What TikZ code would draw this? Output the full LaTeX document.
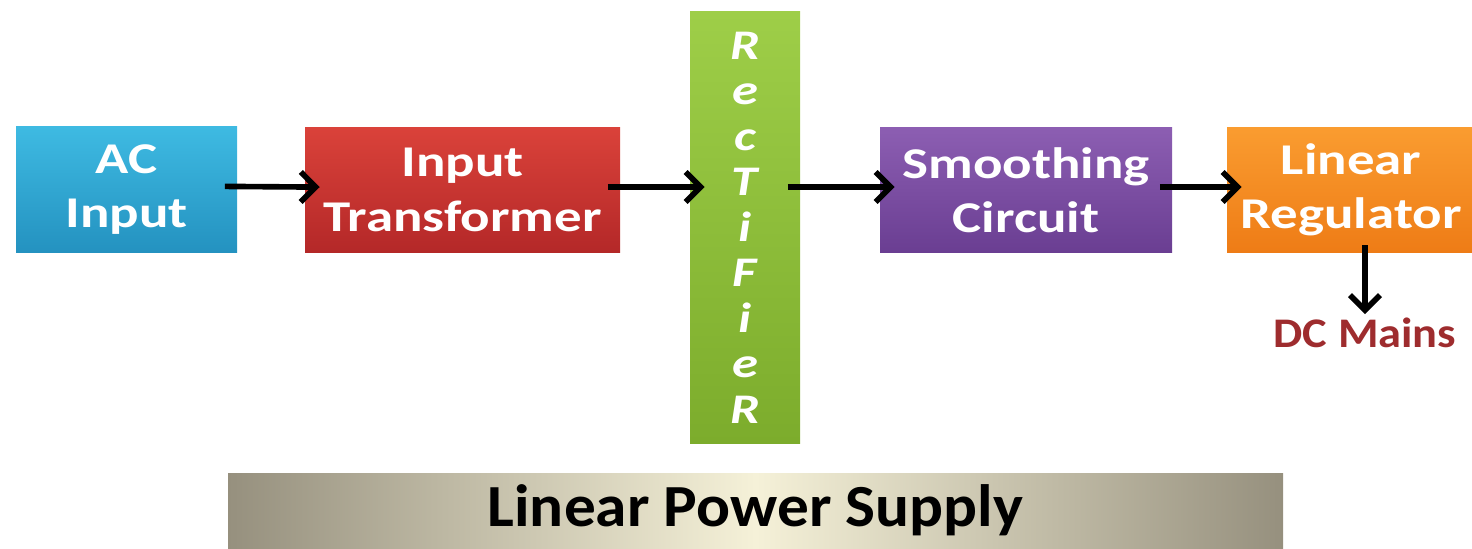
\documentclass[tikz,border=0pt]{standalone}
\usepackage{fontspec}
\setmainfont{Carlito}
\newfontfamily\boxfont{Carlito}[FakeStretch=1.25]
\newfontfamily\bandfont{Carlito}[FakeStretch=1.06]
\newfontfamily\mainsfont{Carlito}[FakeStretch=1.1]
\usepackage{tikz}
\usetikzlibrary{positioning,arrows.meta,calc}
\definecolor{acTop}{RGB}{62,186,226}
\definecolor{acBot}{RGB}{36,146,192}
\definecolor{trTop}{RGB}{218,66,58}
\definecolor{trBot}{RGB}{180,40,40}
\definecolor{rcTop}{RGB}{158,206,72}
\definecolor{rcBot}{RGB}{124,172,44}
\definecolor{smTop}{RGB}{140,94,178}
\definecolor{smBot}{RGB}{106,62,146}
\definecolor{rgTop}{RGB}{250,156,48}
\definecolor{rgBot}{RGB}{238,124,22}
\definecolor{dcRed}{RGB}{158,44,46}
\definecolor{bandSide}{RGB}{150,144,126}
\definecolor{bandMid}{RGB}{245,241,216}
\tikzset{
  blk/.style={rectangle, minimum height=2.5cm, align=center, text=white,
              font=\boxfont\fontsize{25}{31}\selectfont\bfseries, inner sep=0pt},
  flow/.style={-{Straight Barb[length=3mm,width=6mm]}, line width=3.2pt,
               shorten <=-0.25cm, shorten >=-0.3cm},
  lbl/.style={font=\mainsfont\fontsize{24}{28}\selectfont\bfseries, text=dcRed, inner sep=2pt},
}
\begin{document}
\begin{tikzpicture}
  \useasboundingbox (0,0) rectangle (29.44,10.96);

  \node[blk, minimum width=4.42cm, top color=acTop, bottom color=acBot] (ac)
        at (2.53,7.17) {AC\\Input};
  \node[blk, minimum width=6.3cm, top color=trTop, bottom color=trBot] (tr)
        at (9.25,7.16) {Input\\Transformer};
  \node[blk, minimum width=2.2cm, minimum height=8.62cm, top color=rcTop,
        bottom color=rcBot, font=\boxfont\fontsize{24}{25.9}\selectfont\bfseries\itshape] (rc)
        at (14.9,6.41) {R\\e\\c\\T\\i\\F\\i\\e\\R};
  \node[blk, minimum width=5.84cm, top color=smTop, bottom color=smBot] (sm)
        at (20.52,7.16) {Smoothing\\Circuit};
  \node[blk, minimum width=4.96cm, top color=rgTop, bottom color=rgBot] (rg)
        at (27.02,7.16) {Linear\\Regulator};
  \node[lbl] (dc) at (27.3,4.3) {DC Mains};

  % supply chain
  \draw[flow] ([yshift=0.6mm]ac.east) -- ([yshift=0.6mm]tr.west);
  \draw[flow] ([yshift=0.6mm]tr.east) -- ([yshift=0.6mm]tr.east -| rc.west);
  \draw[flow] ([yshift=0.6mm]tr.east -| rc.east) -- ([yshift=0.6mm]sm.west);
  \draw[flow] ([yshift=0.6mm]sm.east) -- ([yshift=0.6mm]rg.west);
  \draw[-{Straight Barb[length=3mm,width=6mm]}, line width=3.2pt,
        shorten <=-0.15cm] (rg.south -| dc.north) -- (dc.north);

  \node[minimum width=21.1cm, minimum height=1.5cm, left color=bandSide,
        right color=bandSide, middle color=bandMid, inner sep=0pt,
        font=\bandfont\fontsize{34}{38}\selectfont\bfseries] (band)
        at (15.11,0.75) {Linear Power Supply};
\end{tikzpicture}
\end{document}
